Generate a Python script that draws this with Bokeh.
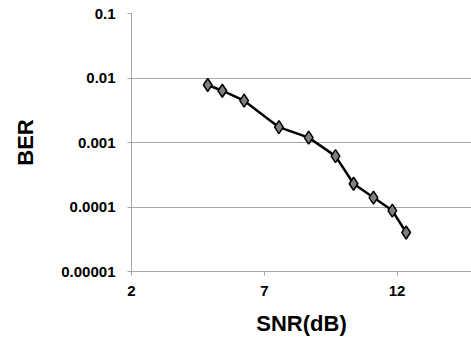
from bokeh.plotting import figure
from bokeh.models import FixedTicker, CustomJSTickFormatter, Range1d
from bokeh.embed import file_html
from bokeh.resources import INLINE

snr = [4.87, 5.42, 6.24, 7.55, 8.67, 9.68, 10.36, 11.11, 11.82, 12.34]
ber = [0.00778, 0.00635, 0.00445, 0.00173, 0.00119, 0.000615, 0.000229, 0.000140, 0.0000881, 0.0000402]

x_ticks = [2, 7, 12]
y_ticks = [0.00001, 0.0001, 0.001, 0.01, 0.1]
y_tick_labels = ["0.00001", "0.0001", "0.001", "0.01", "0.1"]

FONT = "Liberation Sans"
GRID = "#a6a6a6"

p = figure(width=471, height=341, y_axis_type="log",
           x_range=Range1d(2, 14.8), y_range=Range1d(0.00001, 0.1),
           output_backend="svg", toolbar_location=None,
           min_border_left=131, min_border_right=0, min_border_top=13, min_border_bottom=70)
p.outline_line_color = None
p.background_fill_color = "white"

p.line(snr, ber, line_color="black", line_width=2.5)
p.scatter(snr, ber, marker="diamond", size=13, fill_color="#7f7f7f",
          line_color="black", line_width=1.5)

p.xgrid.grid_line_color = None
p.ygrid.grid_line_color = GRID
p.ygrid.grid_line_width = 1

p.xaxis.ticker = FixedTicker(ticks=x_ticks)
p.yaxis.ticker = FixedTicker(ticks=y_ticks)
p.yaxis.formatter = CustomJSTickFormatter(args=dict(tvals=y_ticks, tlabels=y_tick_labels), code="""
let best = 0, bd = 1e9;
for (let i = 0; i < tvals.length; i++) {
  const d = Math.abs(Math.log10(tvals[i]) - Math.log10(tick));
  if (d < bd) { bd = d; best = i; }
}
return tlabels[best];
""")

for ax in (p.xaxis, p.yaxis):
    ax.axis_line_color = GRID
    ax.major_tick_line_color = GRID
    ax.minor_tick_line_color = None
    ax.major_tick_in = 0
    ax.major_tick_out = 4
    ax.major_label_text_font = FONT
    ax.major_label_text_font_style = "bold"
    ax.major_label_text_font_size = "15px"
    ax.major_label_text_color = "black"
    ax.axis_label_text_font = FONT
    ax.axis_label_text_font_style = "bold"
    ax.axis_label_text_font_size = "22px"
    ax.axis_label_text_color = "black"

p.xaxis.axis_label = "SNR(dB)"
p.yaxis.axis_label = "BER"
p.xaxis.major_label_standoff = 10
p.yaxis.major_label_standoff = 12
p.xaxis.axis_label_standoff = 12
p.yaxis.axis_label_standoff = 20

open("out.html", "w").write(file_html(p, INLINE))
